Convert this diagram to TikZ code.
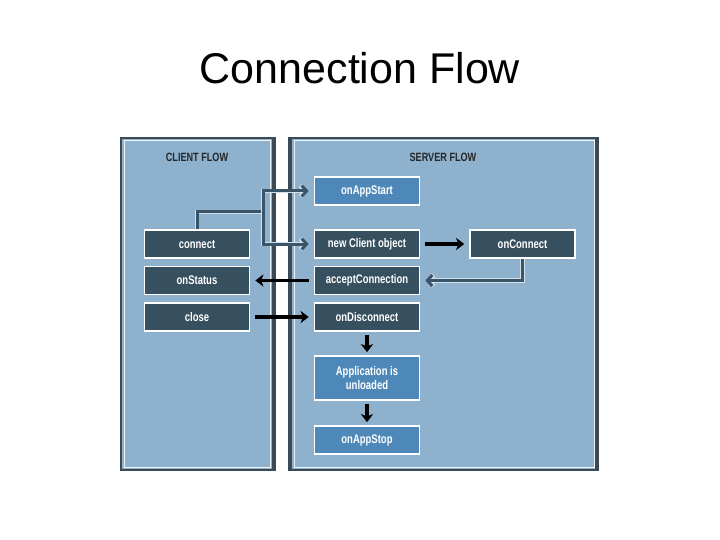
\documentclass[tikz,border=0pt]{standalone}
\usepackage{fontspec}
\setmainfont{Liberation Sans}
\newfontfamily\boxfont[FakeStretch=0.76]{Liberation Sans}
\usetikzlibrary{arrows.meta}
\definecolor{panelfill}{HTML}{8EB1CE}
\definecolor{darkbox}{HTML}{37505F}
\definecolor{midbox}{HTML}{4E88B8}
\definecolor{slate}{HTML}{3A5568}
\definecolor{edge}{HTML}{3C4A55}
\tikzset{
  boxbase/.style={draw=white, line width=1.6pt, minimum width=105pt, minimum height=28pt,
    inner sep=1pt, text=white, font=\boxfont\bfseries\fontsize{12.5}{14}\selectfont, align=center},
  dbox/.style={boxbase, fill=darkbox},
  mbox/.style={boxbase, fill=midbox},
  hdr/.style={text=black!85, font=\boxfont\bfseries\fontsize{12}{13}\selectfont},
  slateline/.style={draw=slate, line width=3pt, line cap=butt,
    preaction={draw=white!60!panelfill, line width=4.6pt}},
  slatearrow/.style={slateline, -{Straight Barb[length=5pt,width=11pt]}, shorten >=5pt},
  blackarrow/.style={draw=black, line width=3.6pt, -{Stealth[length=8pt,width=12pt,inset=2pt]}, shorten >=5pt, shorten <=5pt},
}
\begin{document}
\begin{tikzpicture}[x=1pt,y=-1pt]
\useasboundingbox (0,0) rectangle (720,540);
% title
\node (title) at (360,68) {\fontsize{43}{48}\selectfont Connection Flow};
% client panel
\fill[panelfill] (121,138) rectangle (275,470);
\draw[white!85!panelfill, line width=1pt] (124,141) rectangle (270,467);
\draw[edge, line width=1.5pt] (121,138) rectangle (275,470);
\draw[edge, line width=3pt] (273.5,138) -- (273.5,470);
% server panel
\fill[panelfill] (289,138) rectangle (598,470);
\draw[white!85!panelfill, line width=1pt] (294,141) rectangle (594,467);
\draw[edge, line width=1.5pt] (289,138) rectangle (598,470);
\draw[edge, line width=3pt] (290.5,138) -- (290.5,470);
\draw[edge, line width=3pt] (596.5,138) -- (596.5,470);
% headers
\node[hdr] (chdr) at (197,157) {CLIENT FLOW};
\node[hdr] (shdr) at (443,157) {SERVER FLOW};
% boxes
\node[mbox] (appstart) at (367,191) {onAppStart};
\node[dbox] (connect) at (197,244) {connect};
\node[dbox] (newclient) at (367,244) {new Client object};
\node[dbox] (onconnect) at (522.5,244) {onConnect};
\node[dbox] (onstatus) at (197,280.5) {onStatus};
\node[dbox] (accept) at (367,280.5) {acceptConnection};
\node[dbox] (close) at (197,317) {close};
\node[dbox] (ondisc) at (367,317) {onDisconnect};
\node[mbox, minimum height=44pt] (unloaded) at (367,378) {Application is\\unloaded};
\node[mbox] (appstop) at (367,440) {onAppStop};
% slate connectors
\coordinate (j) at (263,212);
\draw[slateline] (connect.north) |- (j);
\draw[slatearrow] (j) |- (appstart.west);
\draw[slatearrow] (j) |- (newclient.west);
\draw[slatearrow] (onconnect.south) |- (accept.east);
% black arrows
\draw[blackarrow] (newclient.east) -- (onconnect.west);
\draw[blackarrow] (accept.west) -- (onstatus.east);
\draw[blackarrow] (close.east) -- (ondisc.west);
\draw[blackarrow, shorten >=3pt, shorten <=3pt] (ondisc.south) -- (unloaded.north);
\draw[blackarrow, shorten >=3pt, shorten <=3pt] (unloaded.south) -- (appstop.north);
\end{tikzpicture}
\end{document}
